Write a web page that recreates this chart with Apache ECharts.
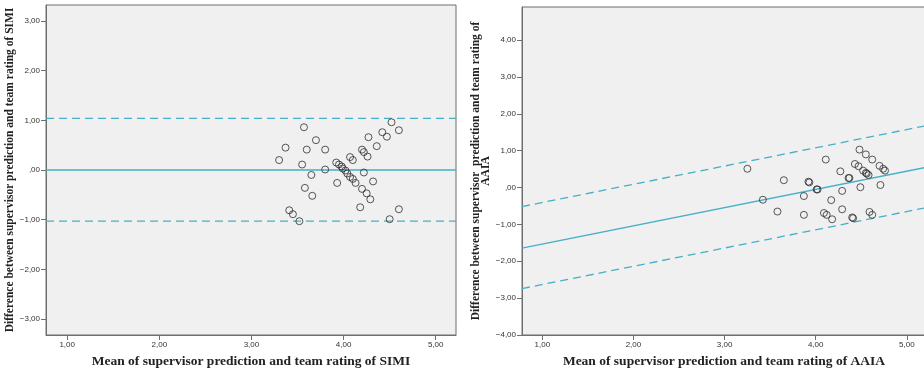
<!DOCTYPE html>
<html>
<head>
<meta charset="utf-8">
<script src="https://cdn.jsdelivr.net/npm/echarts@6/dist/echarts.min.js"></script>
<style>html,body{margin:0;padding:0;background:#fff}#c{width:924px;height:373px}</style>
</head>
<body>
<div id="c"></div>
<script>
// ---- Left panel (SIMI) ----
const simiMean = [3.30,3.37,3.57,3.55,3.60,3.70,3.65,3.58,3.66,3.80,3.80,3.41,3.45,3.52,
  3.92,3.95,3.98,3.99,4.02,4.04,4.07,4.10,4.13,3.93,4.07,4.10,4.20,4.22,4.26,4.27,4.22,4.20,
  4.25,4.29,4.18,4.32,4.36,4.42,4.47,4.52,4.60,4.60,4.50];
const simiDiff = [0.20,0.45,0.86,0.11,0.41,0.60,-0.10,-0.36,-0.52,0.41,0.01,-0.81,-0.89,-1.03,
  0.15,0.11,0.07,0.03,-0.01,-0.07,-0.14,-0.18,-0.26,-0.26,0.26,0.20,0.41,0.36,0.27,0.66,-0.05,-0.38,
  -0.47,-0.59,-0.75,-0.23,0.48,0.76,0.67,0.96,0.80,-0.79,-0.99];
const simiMeanLine = 0.0;
const simiUpper = 1.04;
const simiLower = -1.03;

// ---- Right panel (AAIA) ----
const aaiaMean = [3.25,3.42,3.58,3.65,3.87,3.87,3.92,3.93,4.01,4.02,4.11,4.09,4.12,4.18,4.17,
  4.27,4.29,4.29,4.36,4.37,4.40,4.41,4.43,4.47,4.48,4.49,4.52,4.55,4.55,4.56,4.58,4.59,4.62,
  4.62,4.70,4.74,4.76,4.71];
const aaiaDiff = [0.51,-0.33,-0.65,0.20,-0.23,-0.74,0.16,0.14,-0.05,-0.05,0.76,-0.69,-0.74,-0.86,-0.34,
  0.44,-0.09,-0.59,0.26,0.26,-0.81,-0.83,0.64,0.58,1.03,0.01,0.46,0.90,0.40,0.38,0.34,-0.66,-0.74,
  0.76,0.59,0.51,0.46,0.07];
// regression lines: [intercept, slope]
const aaiaFit = [-2.03, 0.495];
const aaiaUpperFit = [-0.90, 0.495];
const aaiaLowerFit = [-3.125, 0.495];

const xTicks = [1,2,3,4,5];
const leftYTicks = [-3,-2,-1,0,1,2,3];
const rightYTicks = [-4,-3,-2,-1,0,1,2,3,4];

const xTitleL = 'Mean of supervisor prediction and team rating of SIMI';
const xTitleR = 'Mean of supervisor prediction and team rating of AAIA';
const yTitleL = 'Difference between supervisor prediction and team rating of SIMI';
const yTitleR = 'Difference between supervisor  prediction and team rating of\nAAIA';

const LX = [0.77, 5.22], LY = [-3.32, 3.32];
const RX = [0.777, 5.21], RY = [-4, 4.9];

function fmt(v){
  const a = Math.abs(v).toFixed(2).replace('.', ',');
  if (Math.abs(v) < 1e-9) return ',00';
  return (v < 0 ? '\u2212' : '') + a;
}
const TEAL = '#45afc8';
const AXC = '#6f6f6f';
const titleFont = {fontFamily:'"Liberation Serif", "Times New Roman", serif', fontWeight:'bold', color:'#222'};

function xAxis(grid, rng, name){
  return {type:'value', gridIndex:grid, min:rng[0], max:rng[1], name:name, nameLocation:'middle', nameGap:20,
    nameTextStyle:Object.assign({}, titleFont, {fontSize:13.5}),
    axisLine:{show:true, onZero:false, lineStyle:{color:AXC,width:1}},
    axisTick:{show:true, length:5, lineStyle:{color:AXC}, customValues:xTicks},
    axisLabel:{fontSize:8, color:'#333', fontFamily:'"Liberation Sans", Arial', margin:6, formatter:fmt, customValues:xTicks},
    splitLine:{show:false}};
}
function yAxis(grid, rng, ticks, name, gap, lh){
  return {type:'value', gridIndex:grid, min:rng[0], max:rng[1], name:name, nameLocation:'middle', nameGap:gap, nameRotate:90,
    nameTextStyle:Object.assign({}, titleFont, {fontSize:11.5, lineHeight:lh, align:'center'}),
    axisLine:{show:true, onZero:false, lineStyle:{color:AXC,width:1}},
    axisTick:{show:true, length:5, lineStyle:{color:AXC}, customValues:ticks},
    axisLabel:{fontSize:8, color:'#333', fontFamily:'"Liberation Sans", Arial', margin:6, formatter:fmt, customValues:ticks},
    splitLine:{show:false}};
}
function scatter(xi, xs, ys){
  return {type:'scatter', xAxisIndex:xi, yAxisIndex:xi, data:xs.map((x,i)=>[x,ys[i]]), symbol:'circle', symbolSize:7,
    itemStyle:{color:'rgba(0,0,0,0)', borderColor:'#2e2e2e', borderWidth:1}, z:5, silent:true};
}
function line(xi, pts, dashed){
  return {type:'line', xAxisIndex:xi, yAxisIndex:xi, data:pts, symbol:'none', silent:true, z:3, clip:true,
    lineStyle:{color:TEAL, width:1.3, type: dashed ? [8,5] : 'solid'}};
}
function fitPts(f, rng){ return [[rng[0], f[0]+f[1]*rng[0]], [rng[1], f[0]+f[1]*rng[1]]]; }

const chart = echarts.init(document.getElementById('c'), null, {renderer:'canvas'});
chart.setOption({
  animation:false,
  backgroundColor:'#ffffff',
  grid:[
    {left:46, top:5, width:410, height:330, show:true, backgroundColor:'#f0f0f0', borderColor:AXC, borderWidth:1, outerBoundsMode:'none', containLabel:false},
    {left:522, top:7, width:404, height:328, show:true, backgroundColor:'#f0f0f0', borderColor:AXC, borderWidth:1, outerBoundsMode:'none', containLabel:false}
  ],
  xAxis:[xAxis(0, LX, xTitleL), xAxis(1, RX, xTitleR)],
  yAxis:[yAxis(0, LY, leftYTicks, yTitleL, 26, 12), yAxis(1, RY, rightYTicks, yTitleR, 28, 10)],
  series:[
    line(0, [[LX[0], simiMeanLine],[LX[1], simiMeanLine]], false),
    line(0, [[LX[0], simiUpper],[LX[1], simiUpper]], true),
    line(0, [[LX[0], simiLower],[LX[1], simiLower]], true),
    scatter(0, simiMean, simiDiff),
    line(1, fitPts(aaiaFit, RX), false),
    line(1, fitPts(aaiaUpperFit, RX), true),
    line(1, fitPts(aaiaLowerFit, RX), true),
    scatter(1, aaiaMean, aaiaDiff)
  ]
});
</script>
</body>
</html>
